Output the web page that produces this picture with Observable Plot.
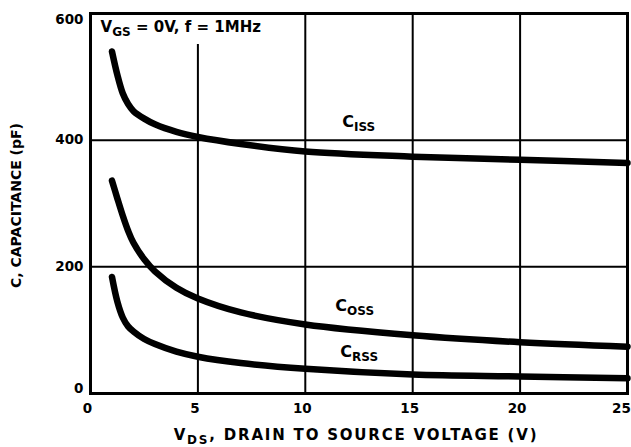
<!DOCTYPE html>
<html>
<head>
<meta charset="utf-8">
<script src="https://cdn.jsdelivr.net/npm/d3@7"></script>
<script src="https://cdn.jsdelivr.net/npm/@observablehq/plot@0.6"></script>
<style>
  html, body { margin: 0; padding: 0; background: #fff; }
  svg { font-family: "DejaVu Sans", "Liberation Sans", Arial, sans-serif; font-weight: bold; }
</style>
</head>
<body>
<div id="chart"></div>
<script>
// Drain-source voltage (V)
const vds = [1, 1.25, 1.5, 1.75, 2, 2.5, 3, 4, 5, 7, 10, 15, 20, 25];
// Capacitances (pF)
const ciss = [540, 503, 474, 457, 446, 434, 425, 413, 405, 394, 382, 374, 369, 364];
const coss = [336, 308, 281, 257, 238, 212, 193, 167, 150, 128, 109, 92, 81, 74];
const crss = [184, 145, 120, 106, 98, 86, 78, 66, 58, 48, 39, 30, 27, 24];

const xTicks = [0, 5, 10, 15, 20];
const xTickLast = [25];
const gridX = [5, 10, 15, 20];
const gridXTop = [551, 600, 600, 600];
const gridY = [200, 400];

// Curve labels: [main, subscript]
const labelMain = ["C", "C", "C"];
const labelSub = ["ISS", "OSS", "RSS"];
const labelX = [11.72, 11.4, 11.63];
const labelY = [429, 139, 66];

const conditionText = ["V", "GS", " = 0V, f = 1MHz"];
const xLabel = ["V", "DS", ", DRAIN TO SOURCE VOLTAGE (V)"];
const yLabel = "C, CAPACITANCE (pF)";

const rows = [];
vds.forEach((v, i) => {
  rows.push({series: "CISS", x: v, y: ciss[i]});
  rows.push({series: "COSS", x: v, y: coss[i]});
  rows.push({series: "CRSS", x: v, y: crss[i]});
});
const gridXRows = gridX.map((x, i) => ({x, y2: gridXTop[i]}));
const labels = labelMain.map((m, i) => ({text: m + labelSub[i], x: labelX[i], y: labelY[i]}));

const F = "'DejaVu Sans', 'Liberation Sans', Arial, sans-serif";
const tick = {tickSize: 0, fontSize: 13.5, fontWeight: "bold", fontFamily: F, label: null};

const plot = Plot.plot({
  width: 631,
  height: 447,
  marginLeft: 90,
  marginRight: 4,
  marginTop: 13,
  marginBottom: 54,
  style: {fontSize: "14px", fontWeight: "bold", fontFamily: F, color: "#000", background: "#fff"},
  x: {domain: [0, 25]},
  y: {domain: [0, 600]},
  marks: [
    Plot.ruleY(gridY, {stroke: "#000", strokeWidth: 2}),
    Plot.ruleX(gridXRows, {x: "x", y1: 0, y2: "y2", stroke: "#000", strokeWidth: 2}),
    Plot.line(rows, {x: "x", y: "y", z: "series", curve: "catmull-rom", stroke: "#000", strokeWidth: 6.5}),
    Plot.frame({stroke: "#000", strokeWidth: 3}),
    Plot.axisX(xTicks, {...tick, tickPadding: 10, dx: -3}),
    Plot.axisX(xTickLast, {...tick, tickPadding: 10, dx: -6}),
    Plot.axisY([200, 400], {...tick, tickPadding: 7}),
    Plot.axisY([600], {...tick, tickPadding: 7, dy: 6}),
    Plot.axisY([0], {...tick, tickPadding: 7, dy: -5}),
    Plot.text(labels, {x: "x", y: "y", text: "text", textAnchor: "start", lineAnchor: "middle", fontSize: 16, fontWeight: "bold", fontFamily: F, fill: "#000"}),
    Plot.text([conditionText.join("")], {x: 0.47, y: 578, textAnchor: "start", lineAnchor: "middle", fontSize: 15, fontWeight: "bold", fontFamily: F, fill: "#000"}),
    Plot.text([yLabel], {frameAnchor: "left", dx: -74, dy: 2, rotate: -90, textAnchor: "middle", lineAnchor: "middle", fontSize: 14, fontWeight: "bold", fontFamily: F, fill: "#000"}),
    Plot.text([xLabel.join("")], {frameAnchor: "bottom", dx: -3, dy: 42, textAnchor: "middle", lineAnchor: "middle", fontSize: 15, fontWeight: "bold", fontFamily: F, fill: "#000"})
  ]
});

// Rewrite texts with subscripts as tspans
const subs = {};
subs[conditionText.join("")] = [[conditionText[0], 0], [conditionText[1], 1], [conditionText[2], 0]];
subs[xLabel.join("")] = [[xLabel[0], 0], [xLabel[1], 1], [xLabel[2], 0]];
labelMain.forEach((m, i) => { subs[m + labelSub[i]] = [[m, 0], [labelSub[i], 1]]; });

d3.select(plot).selectAll("text").each(function() {
  const el = d3.select(this);
  const t = el.text();
  if (subs[t]) {
    el.text(null);
    if (t === xLabel.join("")) el.attr("letter-spacing", "1.8px");
    let inSub = false;
    subs[t].forEach(([s, isSub]) => {
      const ts = el.append("tspan").text(s);
      if (isSub && !inSub) { ts.attr("dy", "4").attr("font-size", "12px"); inSub = true; }
      else if (!isSub && inSub) { ts.attr("dy", "-4"); inSub = false; }
    });
  }
});

document.getElementById("chart").appendChild(plot);
</script>
</body>
</html>
